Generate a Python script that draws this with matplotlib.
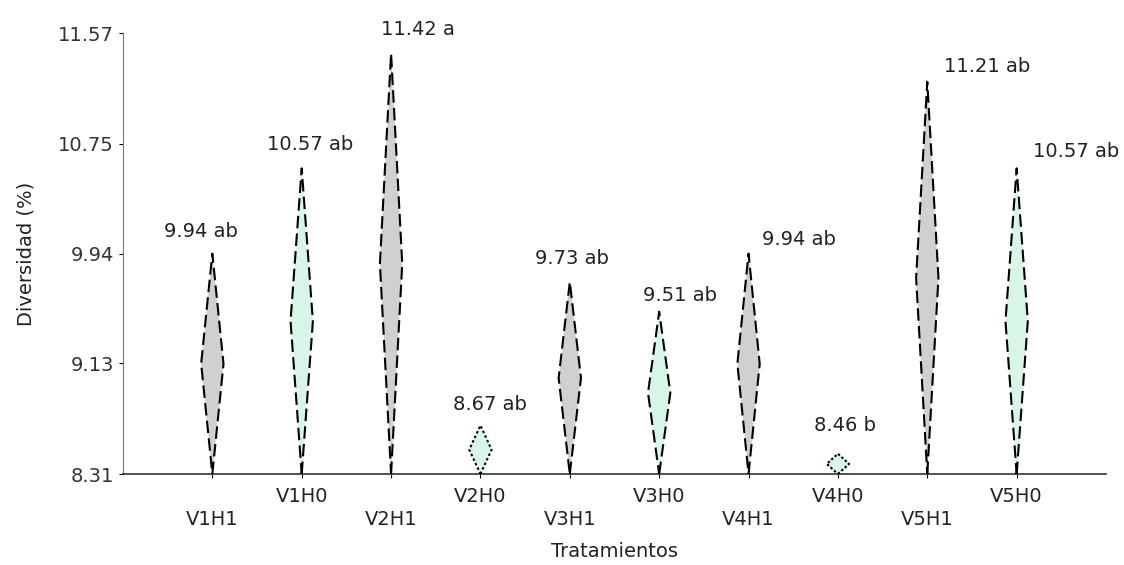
"""
Diversidad (%) por tratamiento, dibujada como rombos desde la base (8.31)
hasta el valor medio de cada tratamiento.
"""
import matplotlib
matplotlib.use("Agg")
import matplotlib.pyplot as plt

plt.rcParams["font.family"] = ["DejaVu Sans"]

TREATMENTS = ["V1H1", "V1H0", "V2H1", "V2H0", "V3H1",
              "V3H0", "V4H1", "V4H0", "V5H1", "V5H0"]
VALUES = [9.94, 10.57, 11.42, 8.67, 9.73, 9.51, 9.94, 8.46, 11.21, 10.57]
LETTERS = ["ab", "ab", "a", "ab", "ab", "ab", "ab", "b", "ab", "ab"]
Y_TICKS = [8.31, 9.13, 9.94, 10.75, 11.57]

BASE = 8.31
HALF_W = 0.125
FILL_H1 = "#d0d0d0"
FILL_H0 = "#d8f6e8"
TXT = "#222222"
FS = 14

# label offsets (points) from the diamond tip: left edge of text, vertical centre
LABEL_DX = [-35, -25, -7, -20, -25, -12, 10, -17, 12, 12]
LABEL_DY = [16, 17, 17, 15, 17, 12, 10, 20, 11, 12]
LINESTYLES = [(0, (6, 2.5))] * 10
LINESTYLES[3] = (0, (1.2, 1.2))
LINESTYLES[7] = (0, (1.2, 1.0))

fig = plt.figure(figsize=(11.24, 5.65), dpi=100)
ax = fig.add_axes([0.1094, 0.161, 0.8746, 0.7805])

for i, (name, val) in enumerate(zip(TREATMENTS, VALUES)):
    x = i + 1
    mid = (BASE + val) / 2
    xs = [x, x + HALF_W, x, x - HALF_W, x]
    ys = [BASE, mid, val, mid, BASE]
    color = FILL_H1 if name.endswith("H1") else FILL_H0
    ax.fill(xs, ys, facecolor=color, edgecolor="none", zorder=2)
    ax.plot(xs, ys, color="black", lw=1.5, ls=LINESTYLES[i], zorder=3)
    ax.annotate(f"{val:.2f} {LETTERS[i]}", xy=(x, val),
                xytext=(LABEL_DX[i], LABEL_DY[i]), textcoords="offset points",
                ha="left", va="center", fontsize=FS, color=TXT)

ax.set_xlim(0, 11)
ax.set_ylim(BASE, 11.57)
ax.set_yticks(Y_TICKS)
ax.set_yticklabels([f"{v:.2f}" for v in Y_TICKS], fontsize=FS, color="#333333")
ax.set_xticks(range(1, len(TREATMENTS) + 1))
ax.set_xticklabels(TREATMENTS, fontsize=FS, color=TXT)
for k, tick in enumerate(ax.xaxis.get_major_ticks()):
    tick.set_pad(23 if k % 2 == 0 else 6.5)

ax.tick_params(axis="both", length=3, width=0.8)
ax.spines["top"].set_visible(False)
ax.spines["right"].set_visible(False)
ax.spines["left"].set_color("#777777")
ax.spines["bottom"].set_color("#333333")
ax.spines["bottom"].set_linewidth(1.2)

ax.set_ylabel("Diversidad (%)", fontsize=FS, color=TXT, labelpad=16)
ax.set_xlabel("Tratamientos", fontsize=FS, color=TXT, labelpad=9)

fig.savefig("out.png", dpi=100)
